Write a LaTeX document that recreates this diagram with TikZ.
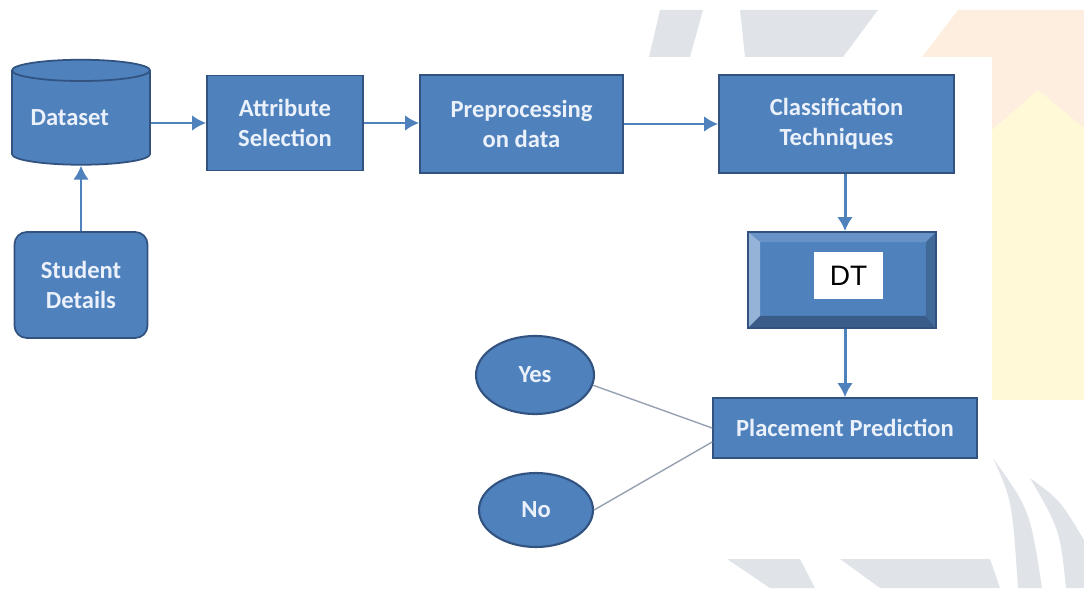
\documentclass[tikz,border=0pt]{standalone}
\usepackage{fontspec}
\setmainfont{Carlito}
\newfontfamily\dtfont{Liberation Sans}
\usetikzlibrary{shapes.geometric}
\usetikzlibrary{arrows.meta}
\definecolor{myblue}{RGB}{79,129,189}
\definecolor{mydarkblue}{RGB}{50,82,128}
\definecolor{mylightblue}{RGB}{149,179,215}
\definecolor{mytext}{RGB}{235,241,250}
\definecolor{myline}{RGB}{150,162,178}
\definecolor{mywmgray}{RGB}{224,228,233}
\definecolor{mywmpeach}{RGB}{253,238,224}
\definecolor{mywmyellow}{RGB}{255,249,216}
\tikzset{
  >=latex,
  box/.style={draw=mydarkblue,line width=1pt,fill=myblue,text=mytext,
    font=\bfseries\fontsize{14}{17}\selectfont,align=center,inner sep=0pt},
  box db/.style={box,cylinder,shape border rotate=90,aspect=0.38,
    cylinder uses custom fill,cylinder body fill=myblue,cylinder end fill=mylightblue},
  box round/.style={box,rounded corners=7pt},
  box oval/.style={box,ellipse,line width=1.2pt},
  box bevel/.style={box,path picture={
    \fill[myblue!65!mylightblue] (path picture bounding box.north west) -- (path picture bounding box.north east)
      -- ([shift={(-10,10)}]path picture bounding box.north east) -- ([shift={(12,10)}]path picture bounding box.north west) -- cycle;
    \fill[mylightblue] (path picture bounding box.north west) -- ([shift={(12,10)}]path picture bounding box.north west)
      -- ([shift={(12,-12)}]path picture bounding box.south west) -- (path picture bounding box.south west) -- cycle;
    \fill[myblue!72!black] (path picture bounding box.south west) -- ([shift={(12,-12)}]path picture bounding box.south west)
      -- ([shift={(-10,-12)}]path picture bounding box.south east) -- (path picture bounding box.south east) -- cycle;
    \fill[myblue!82!black] (path picture bounding box.north east) -- (path picture bounding box.south east)
      -- ([shift={(-10,-12)}]path picture bounding box.south east) -- ([shift={(-10,10)}]path picture bounding box.north east) -- cycle;
  }},
  connect arrow/.style={-{Latex[length=8,width=9]},line width=1.7pt,myblue},
  connect/.style={line width=0.8pt,myline}
}

\begin{document}
\begin{tikzpicture}[x=0.02cm,y=-0.02cm]
\useasboundingbox (0,0) rectangle (1084,588);
% faint logo behind the chart
\fill[mywmpeach] (922,57) -- (958,10) -- (1084,10) -- (1084,330) -- (992,330) -- (992,57) -- cycle;
\fill[mywmyellow] (992,400) -- (992,130) -- (1038,90) -- (1084,128) -- (1084,400) -- cycle;
\fill[mywmgray] (649,57) -- (660,10) -- (703,10) -- (690,57) -- cycle;
\fill[mywmgray] (740,10) -- (878,10) -- (843,57) -- (745,57) -- cycle;
\fill[mywmgray] (727,559) -- (800,559) -- (815,588) -- (770,588) -- cycle;
\fill[mywmgray] (840,559) -- (990,559) -- (1000,588) -- (880,588) -- cycle;
\fill[mywmgray] (993,458) .. controls (1012,500) .. (1018,588) -- (1042,588) .. controls (1030,510) .. (993,458);
\fill[mywmgray] (1030,478) .. controls (1060,500) .. (1084,540) -- (1084,588) -- (1066,588) .. controls (1060,530) .. (1030,478);
\fill[white] (0,57) rectangle (992,559);

\path
(81,118)     node[box db,minimum width=2.76cm,minimum height=2.1cm] (data) {\mbox{}\\[-8pt]\hspace*{-0.45cm}Dataset}
(285,123)    node[box,minimum width=3.12cm,minimum height=1.9cm] (attr) {Attribute\\Selection}
(521.5,124)  node[box,minimum width=4.06cm,minimum height=1.96cm] (prep) {Preprocessing\\on data}
(836.5,124)  node[box,minimum width=4.7cm,minimum height=1.96cm] (clas) {Classification\\Techniques}
(81,285)     node[box round,minimum width=2.66cm,minimum height=2.12cm] (student) {Student\\Details}
(842,280)    node[box bevel,minimum width=3.76cm,minimum height=1.92cm] (dt) {}
(848.5,275.5) node[fill=white,minimum width=1.38cm,minimum height=0.94cm,
               font=\dtfont\fontsize{16}{16}\selectfont] (dtlabel) {DT}
(845,428)    node[box,minimum width=5.28cm,minimum height=1.2cm] (place) {Placement Prediction}
(535,375)    node[box oval,minimum width=2.36cm,minimum height=1.56cm] (yes) {Yes}
(536,510)    node[box oval,minimum width=2.28cm,minimum height=1.48cm] (no) {No};

\draw[connect arrow] (attr.west -| data.east) -- (attr.west);
\draw[connect arrow] (attr.east) -- (attr.east -| prep.west);
\draw[connect arrow] (prep.east) -- (prep.east -| clas.west);
\draw[connect arrow] (student) -- (data);
\draw[connect arrow] (clas.south -| place) -- (dt.north -| place);
\draw[connect arrow] (dt.south -| place) -- (place);
\draw[connect] (yes.-10) -- (place.west);
\draw[connect] (no.east) -- ([yshift=-0.28cm]place.west);
\end{tikzpicture}
\end{document}
